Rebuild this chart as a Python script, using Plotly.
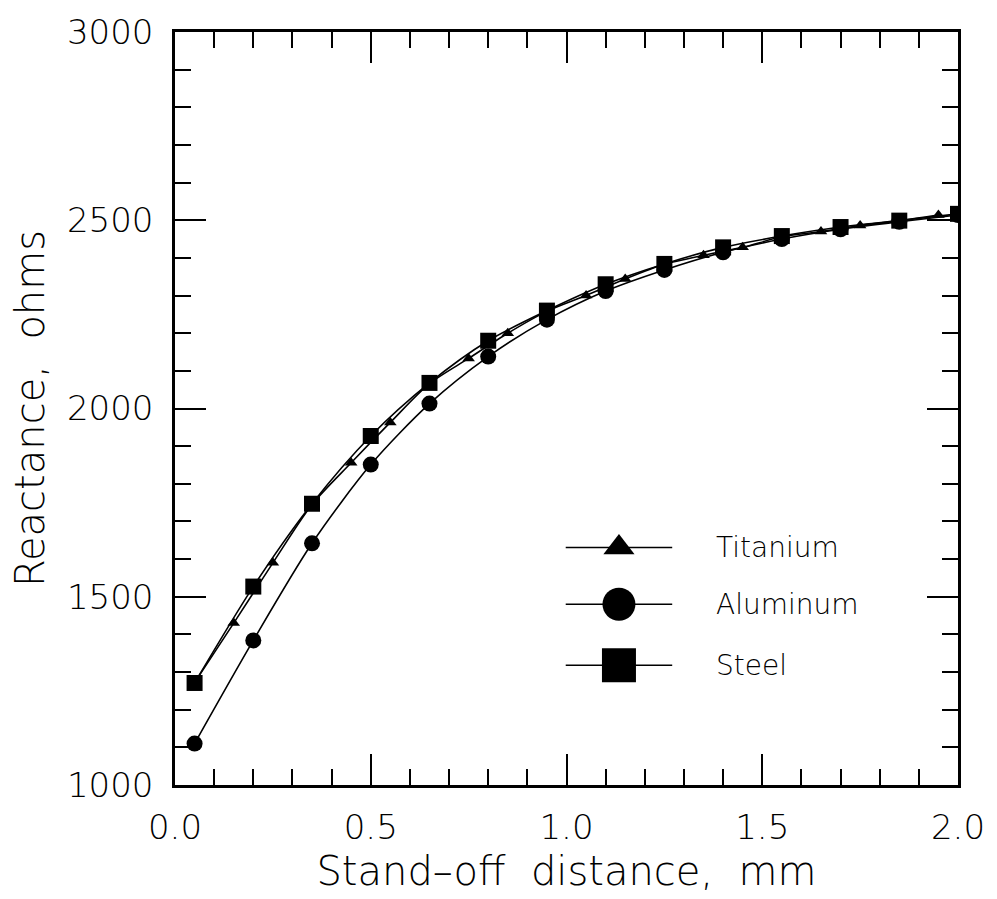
import plotly.graph_objects as go

# Reactance vs. stand-off distance for three target materials
steel_x = [0.05, 0.20, 0.35, 0.50, 0.65, 0.80, 0.95, 1.10, 1.25, 1.40, 1.55, 1.70, 1.85, 2.00]
steel_y = [1271, 1527, 1747, 1927, 2068, 2180, 2260, 2330, 2384, 2428, 2458, 2482, 2499, 2517]

aluminum_x = [0.05, 0.20, 0.35, 0.50, 0.65, 0.80, 0.95, 1.10, 1.25, 1.40, 1.55, 1.70, 1.85, 2.00]
aluminum_y = [1110, 1384, 1642, 1851, 2013, 2138, 2236, 2312, 2368, 2415, 2450, 2476, 2496, 2514]

titanium_x = [0.05, 0.15, 0.25, 0.35, 0.45, 0.55, 0.65, 0.75, 0.85, 0.95,
              1.05, 1.15, 1.25, 1.35, 1.45, 1.55, 1.65, 1.75, 1.85, 1.95]
titanium_y = [1272, 1430, 1590, 1745, 1856, 1963, 2066, 2133, 2200, 2258,
              2300, 2344, 2383, 2407, 2428, 2456, 2470, 2486, 2499, 2514]

legend_names = ["Titanium", "Aluminum", "Steel"]
legend_symbols = ["triangle-up", "circle", "square"]
legend_sizes = [27, 33, 34]

x_title = "Stand\u2013off\u00a0 distance,\u00a0 mm"
y_title = "Reactance,\u00a0 ohms"

FONT = "DejaVu Sans ExtraLight, DejaVu Sans Light, DejaVu Sans"
WEIGHT = 200
INK = "black"

fig = go.Figure()

series = [
    (titanium_x, titanium_y, "triangle-up", 11, "Titanium"),
    (aluminum_x, aluminum_y, "circle", 16, "Aluminum"),
    (steel_x, steel_y, "square", 16, "Steel"),
]
for xs, ys, sym, size, name in series:
    fig.add_trace(go.Scatter(
        x=xs, y=ys, name=name, mode="lines+markers",
        line=dict(color=INK, width=1.6, shape="spline", smoothing=0.8),
        marker=dict(symbol=sym, size=size, color=INK, line=dict(width=0)),
        showlegend=False,
    ))

# Hand-drawn key inside the plot area (overlay axes spanning the plot domain)
key_x0, key_x1, key_xm, key_text_x = 0.499, 0.635, 0.567, 0.688
key_rows = [0.3155, 0.240, 0.159]
for name, sym, size, ky in zip(legend_names, legend_symbols, legend_sizes, key_rows):
    fig.add_trace(go.Scatter(
        x=[key_x0, key_x1], y=[ky, ky], mode="lines",
        line=dict(color=INK, width=1.6), xaxis="x2", yaxis="y2",
        showlegend=False, hoverinfo="skip",
    ))
    fig.add_trace(go.Scatter(
        x=[key_xm], y=[ky], mode="markers",
        marker=dict(symbol=sym, size=size, color=INK, line=dict(width=0)),
        xaxis="x2", yaxis="y2", showlegend=False, hoverinfo="skip",
    ))
    fig.add_annotation(
        x=key_text_x, y=ky, xref="paper", yref="paper", text=name,
        showarrow=False, xanchor="left", yanchor="middle",
        font=dict(family=FONT, size=28, color=INK, weight=WEIGHT),
    )

axis_common = dict(
    showline=True, linecolor=INK, linewidth=2.5, mirror="allticks",
    ticks="inside", tickcolor=INK, tickwidth=2, ticklen=31,
    showgrid=False, zeroline=False,
    tickfont=dict(family=FONT, size=34, color=INK, weight=WEIGHT),
)

fig.update_layout(
    width=997, height=899,
    margin=dict(l=175, r=35, t=28, b=104),
    paper_bgcolor="white", plot_bgcolor="white",
    xaxis=dict(
        range=[0, 2.0], dtick=0.5, tick0=0, tickformat=".1f",
        minor=dict(dtick=0.1, ticks="inside", ticklen=16, tickwidth=2, tickcolor=INK),
        ticklabelstandoff=10,
        title=dict(text=x_title, font=dict(family=FONT, size=40, color=INK, weight=WEIGHT),
                   standoff=12),
        **axis_common,
    ),
    yaxis=dict(
        range=[1000, 3000], dtick=500, tick0=1000,
        minor=dict(dtick=100, ticks="inside", ticklen=16, tickwidth=2, tickcolor=INK),
        ticklabelstandoff=12,
        title=dict(text=y_title, font=dict(family=FONT, size=40, color=INK, weight=WEIGHT),
                   standoff=10),
        **axis_common,
    ),
    xaxis2=dict(range=[0, 1], overlaying="x", visible=False, fixedrange=True),
    yaxis2=dict(range=[0, 1], overlaying="y", visible=False, fixedrange=True),
)

fig.write_html("out.html")
